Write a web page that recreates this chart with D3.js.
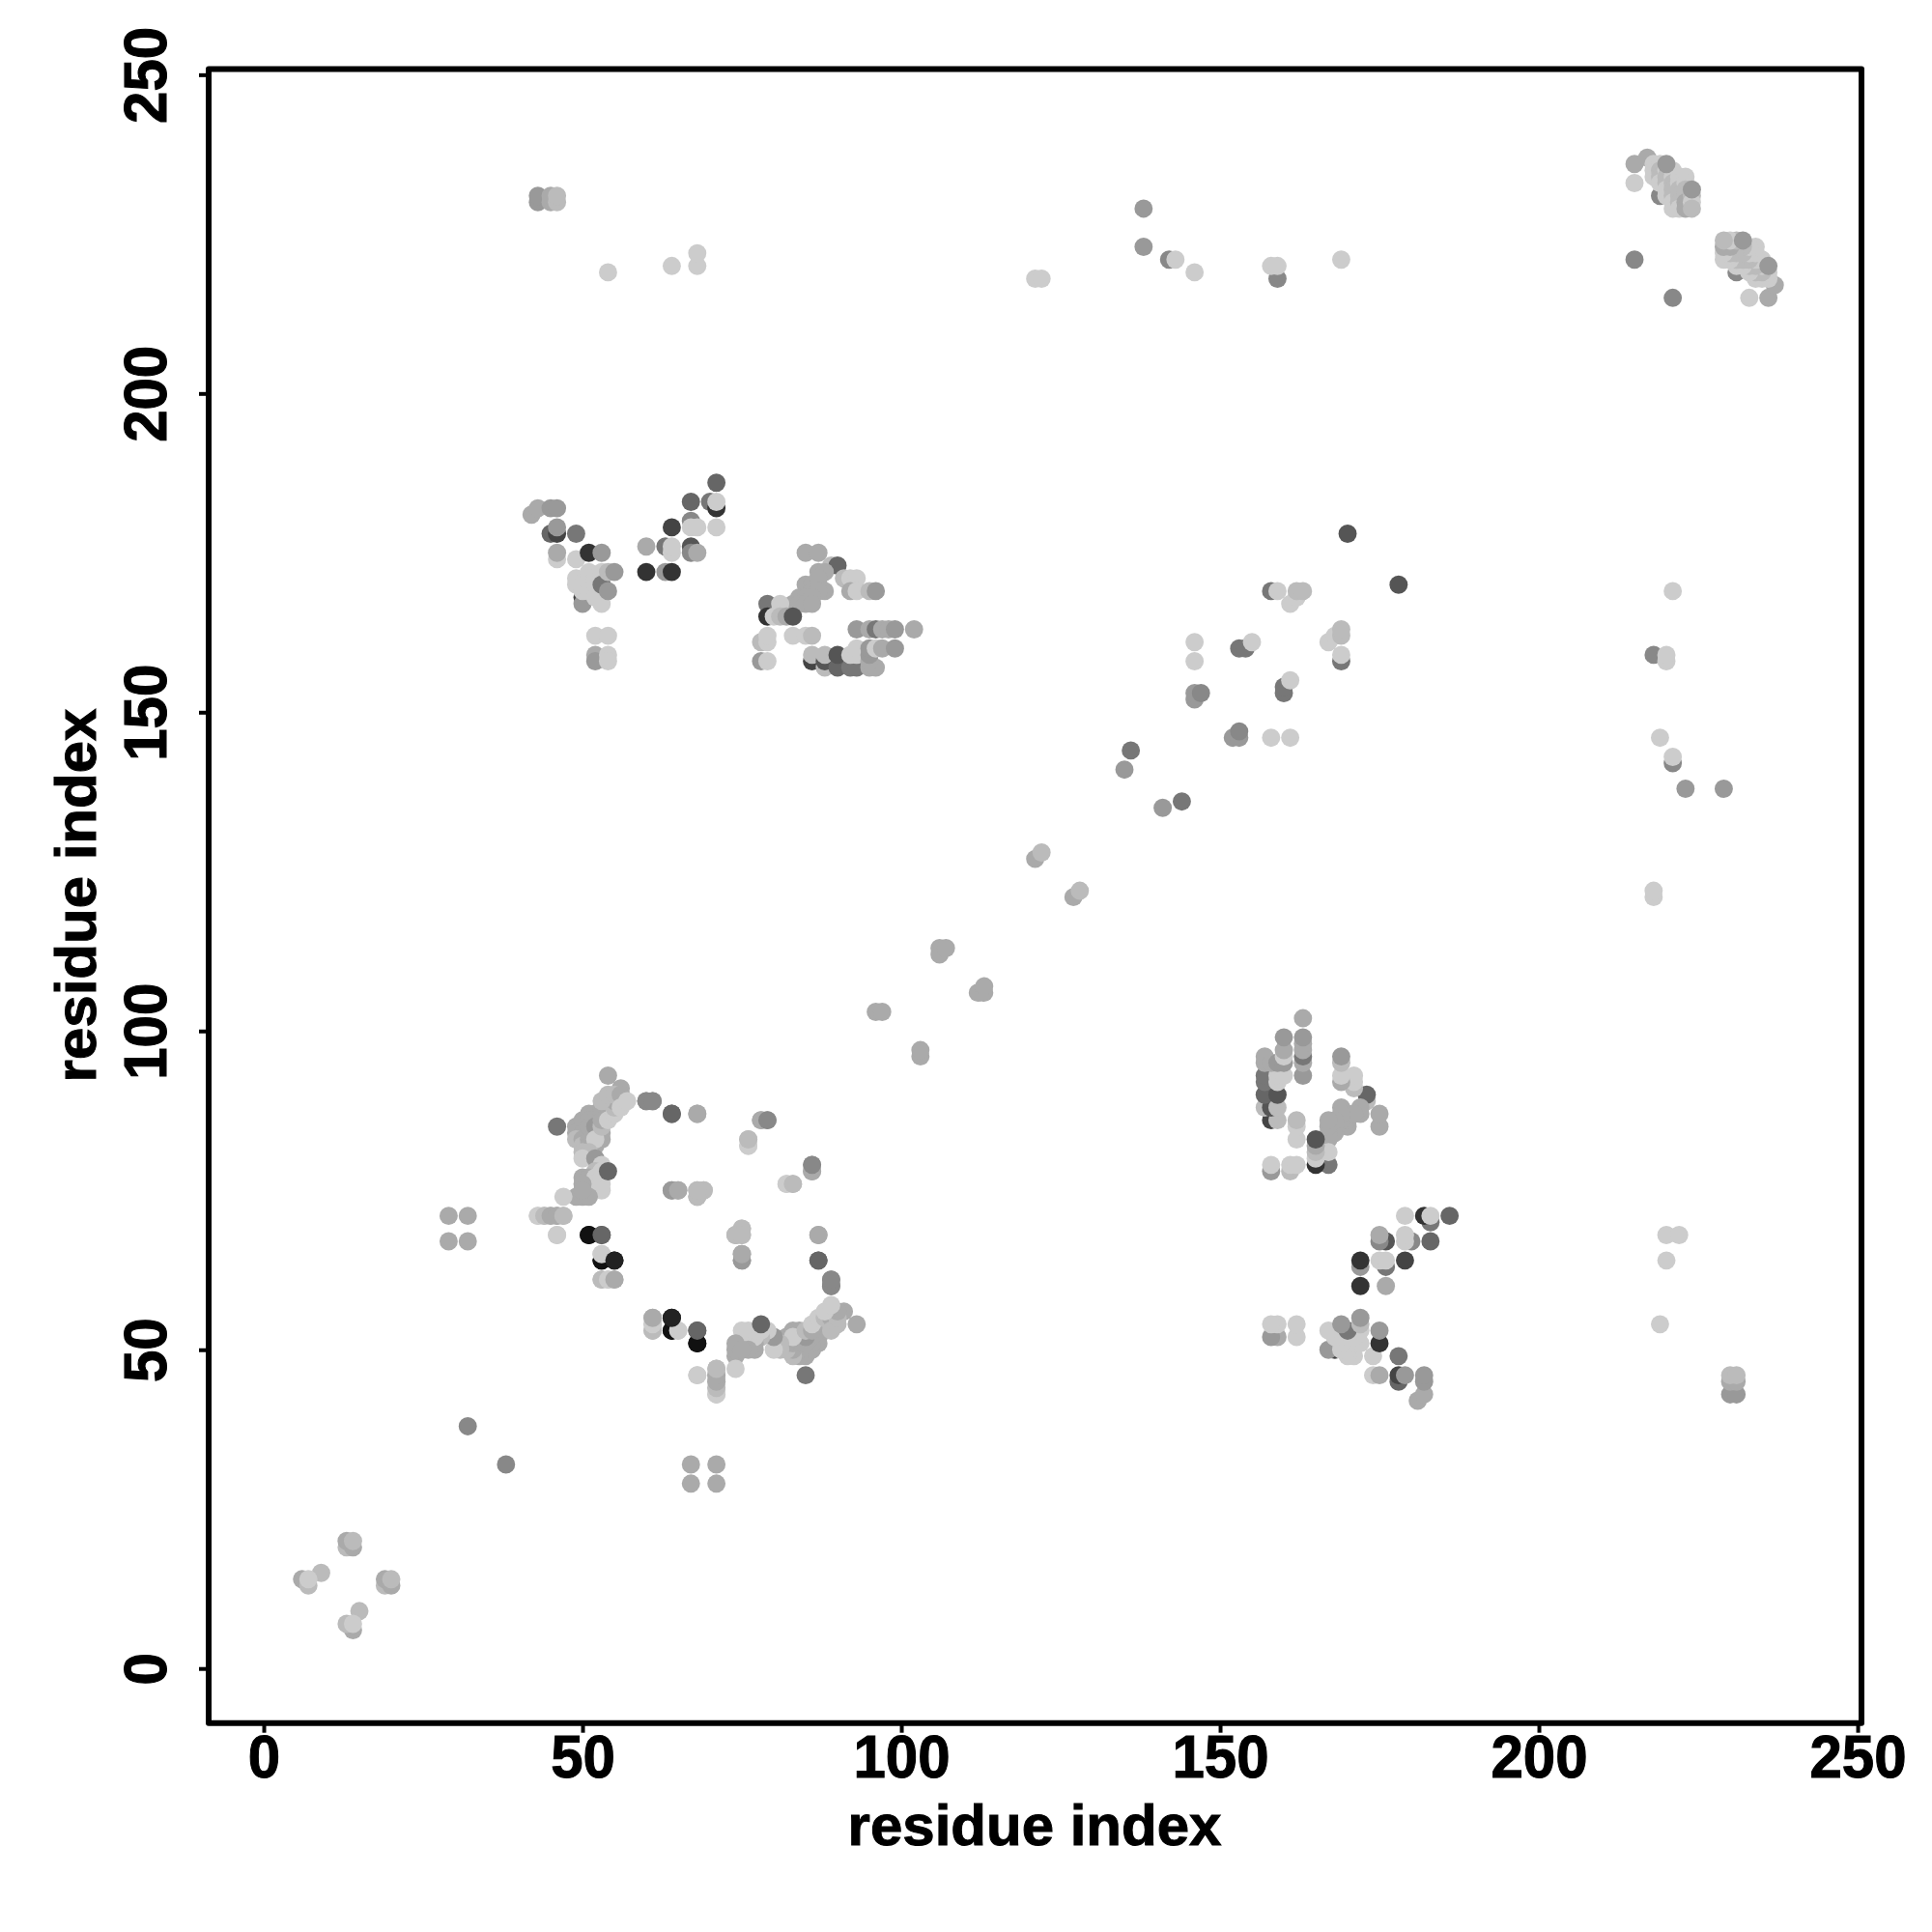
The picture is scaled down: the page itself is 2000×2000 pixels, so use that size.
<!DOCTYPE html>
<html><head><meta charset="utf-8">
<style>html,body{margin:0;background:#fff}svg{display:block}text{font-family:"Liberation Sans",Arial,sans-serif;font-weight:bold;fill:#000;stroke:#000;stroke-width:1px}</style>
<script src="https://cdn.jsdelivr.net/npm/d3@7"></script>
</head><body><div id="c"></div>
<script>
// Each contact: [residue i, residue j, grey level 0 (black) .. 12 (light)]. The map is symmetric.
const tickValues = [0, 50, 100, 150, 200, 250];
const axisLabel = "residue index";
const xLimits = [-8.64, 250.6];
const yLimits = [-8.56, 250.9];

const nTerminal = [[6,14,10],[7,13,11],[9,15,11],[7,14,12],[13,19,11],[14,19,10],[13,20,10],[14,20,11],
  [32,38,8],[29,67,10],[29,71,10],[32,67,10],[32,71,10]];

const arcUpper = [[54,93,10],[56,91,10],[46,85,7],[49,85,10],[50,85,10],[50,86,10],[49,84,10],[50,84,10],[49,83,11],[50,83,10],[50,82,11],[51,84,10],[51,83,10],[51,82,10],[52,82,10],
  [51,87,10],[52,87,10],[51,86,10],[52,86,10],[51,85,10],[52,84,10],[53,83,10],[52,85,9],[53,84,10],[52,83,12],[53,85,11],
  [53,88,10],[53,87,10],[54,87,10],[54,88,10],[53,86,10],[54,86,12],[55,87,12],[55,88,11],[54,89,11],[55,89,10],
  [53,89,11],[54,90,11],[55,90,11],[56,90,10],[56,88,12],[57,89,12],
  [50,81,11],[51,81,11],[50,80,12],[52,80,9],[53,79,12],[52,78,11],[50,77,10],[51,77,10],[51,76,10],[51,75,10],[52,77,12],[52,76,12],[53,78,12],[53,77,12],[53,76,12],[53,75,12],[54,78,6],
  [50,76,10],[49,74,10],[50,74,10],[51,74,10],[50,75,10],[47,74,12],
  [43,71,12],[44,71,11],[45,71,11],[46,71,10],[47,71,11],[46,68,12],[51,68,1],[53,68,6],
  [53,64,1],[53,65,12],[55,64,2],[53,61,11],[54,61,12],[55,61,10]];

const arcMiddle = [[60,89,8],[61,89,8],[64,87,6],[68,87,10],[78,86,10],[79,86,9],[76,82,12],[76,83,11],[86,78,10],[86,79,8],
  [82,76,12],[83,76,11],[64,75,9],[65,75,10],[68,74,10],[68,75,11],[69,75,11],[75,69,11],[74,68,11],[75,68,11],
  [75,64,9],[75,65,10],[87,68,10],[87,64,6],[89,60,8],[89,61,8],
  [61,55,10],[61,54,11],[61,53,11],[64,55,1],[64,53,0],[65,53,12],[68,53,5],[68,51,0]];
const arcLower = [[68,46,12],[71,43,12],[71,44,11],[71,45,10],[71,46,10],[71,47,11]];

const farTop = [[43,230,9],[43,231,9],[45,230,10],[45,231,10],[46,230,11],[46,231,11],
  [54,219,12],[64,220,12],[68,220,12],[68,222,12],[121,218,12],[122,218,12],
  [138,229,9],[138,223,9],[142,221,8],[143,221,12],[146,219,12],[159,218,8],[158,220,12],[159,220,12],[169,221,12]];

const diagonal = [[96,103,10],[97,103,10],[106,112,10],[106,113,10],[107,113,10],[121,127,10],[122,128,11],
  [135,141,9],[136,144,7],[146,152,9],[146,153,9],[147,153,8],[146,158,12],[146,161,12],
  [153,160,7],[154,160,7],[155,161,12],[158,169,7],[159,169,12],[161,167,12],[162,168,12],[162,169,11],[163,169,11],[170,178,5]];

const blockLeft = [[42,181,10],[43,182,10],[45,182,9],[46,182,9],[45,178,6],[46,178,4],[46,179,9],[49,178,7],
  [46,174,12],[46,175,10],[49,174,12],[51,175,3],[53,175,9],
  [50,168,4],[50,167,9],[49,171,12],[49,170,12],[50,170,12],[50,169,12],
  [51,172,12],[51,171,12],[51,170,12],[51,169,12],[52,171,12],[52,170,12],[52,168,12],[53,167,12],[53,172,12],[53,170,7],[54,172,11],[54,169,9],[55,172,9],
  [52,162,12],[54,162,12],[52,159,10],[52,158,9],[54,159,12],[54,158,12]];

const blockLeftTop = [[60,176,10],[60,172,3],[63,176,7],[64,179,4],[63,172,9],[64,172,3],[64,175,12],[64,176,12],
  [67,183,6],[71,186,6],[70,183,7],[71,182,3],[71,183,12],[71,179,12],[67,180,8],[67,179,12],[68,179,12],
  [67,176,5],[67,175,8],[68,175,10]];

const blockRight = [[85,175,10],[87,175,10],[89,173,11],[90,173,6],
  [87,172,10],[88,172,10],[85,170,10],[86,170,10],[87,170,10],[86,169,10],[87,171,10],[88,169,10],[87,169,10],[84,168,10],[85,168,10],[86,168,10],
  [83,167,10],[84,167,10],[85,167,10],[86,167,10],
  [91,171,11],[92,171,12],[93,171,12],[92,169,10],[93,169,12],[95,169,11],[96,169,9],
  [79,167,7],[79,165,3],[81,167,12],[80,165,12],[81,165,11],[82,165,10],[83,165,5],
  [78,161,11],[79,161,12],[79,162,12],[78,158,9],[79,158,12],[83,162,12],[85,162,12],[86,162,11],
  [86,158,4],[86,159,11],[88,157,11],[88,158,5],[88,159,11],[90,157,6],[90,159,5],[92,157,7],[93,157,7],[92,159,12],[93,159,12],[93,160,12],
  [95,157,10],[96,157,10],[95,158,10],[95,159,9],[95,160,9],[96,160,12],[97,160,10],[99,160,9],
  [93,163,9],[95,163,10],[96,163,7],[97,163,10],[98,163,10],[99,163,9],[102,163,10]];

const farRight = [[215,221,8],[219,231,8],
  [215,236,10],[217,237,10],[215,233,12],
  [218,236,12],[218,235,12],[218,234,12],[219,236,12],[219,235,11],[219,234,11],[219,233,12],
  [220,235,12],[220,234,11],[220,233,11],[220,232,12],[220,231,12],
  [221,235,12],[221,234,12],[221,233,11],[221,232,11],[221,231,11],[221,230,12],[221,229,12],
  [222,234,12],[222,233,12],[222,232,11],[222,231,11],[222,230,11],[222,229,12],
  [223,234,12],[223,233,12],[223,232,11],[223,231,11],[223,230,10],[223,229,10],
  [224,231,11],[224,230,12],[224,229,11],[220,236,9],[224,232,9]];

const allContacts = [].concat(nTerminal, farTop, diagonal, blockLeft, blockLeftTop, blockRight, arcMiddle, arcUpper, arcLower, farRight);

const x = d3.scaleLinear().domain(xLimits).range([216, 1927]);
const y = d3.scaleLinear().domain(yLimits).range([1783.7, 71.4]);
const grey = d3.scaleLinear().domain([0, 15]).range(["#000000", "#ffffff"]);

const points = allContacts.flatMap(([i, j, g]) => [{x: i, y: j, g}, {x: j, y: i, g}]);

const svg = d3.select("#c").append("svg").attr("width", 2000).attr("height", 2000);
svg.append("rect").attr("width", 2000).attr("height", 2000).attr("fill", "#fff");

svg.append("g").selectAll("circle").data(points).join("circle")
  .attr("cx", d => x(d.x)).attr("cy", d => y(d.y)).attr("r", 9.45).attr("fill", d => grey(d.g));

const xAxis = svg.append("g").attr("transform", "translate(0,1783.7)")
  .call(d3.axisBottom(x).tickValues(tickValues).tickSize(10).tickPadding(0));
const yAxis = svg.append("g").attr("transform", "translate(216,0)")
  .call(d3.axisLeft(y).tickValues(tickValues).tickSize(10).tickPadding(0));
for (const a of [xAxis, yAxis]) {
  a.select(".domain").remove();
  a.selectAll("line").attr("stroke", "#000").attr("stroke-width", 4);
  a.selectAll("text").attr("font-size", 60).style("font-family", '"Liberation Sans"').style("font-weight", "bold");
}
xAxis.selectAll("text").attr("y", 0).attr("dy", 0).attr("text-anchor", "middle")
  .attr("transform", "translate(0,56) scale(1,1.06)");
yAxis.selectAll("text").attr("x", 0).attr("dy", 0).attr("text-anchor", "middle")
  .attr("transform", "translate(-44,0) rotate(-90) scale(1,1.06)");

svg.append("rect").attr("x", 216).attr("y", 71.4).attr("width", 1711).attr("height", 1712.3)
  .attr("fill", "none").attr("stroke", "#000").attr("stroke-width", 6).attr("stroke-linejoin", "round");

svg.append("text").attr("x", 1071).attr("y", 1910).attr("text-anchor", "middle").attr("font-size", 60).text(axisLabel);
svg.append("text").attr("transform", "translate(99,927) rotate(-90)").attr("text-anchor", "middle").attr("font-size", 60).text(axisLabel);
</script></body></html>
